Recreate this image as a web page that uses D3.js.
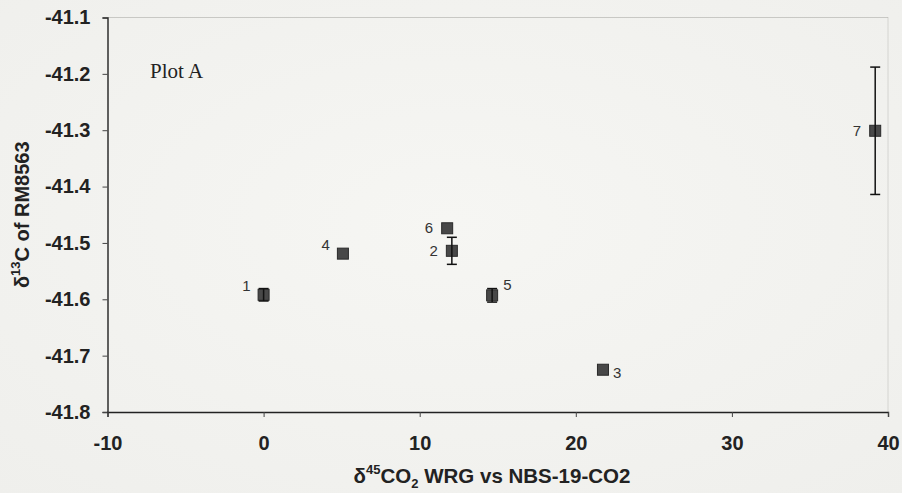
<!DOCTYPE html>
<html>
<head>
<meta charset="utf-8">
<script src="https://cdn.jsdelivr.net/npm/d3@7"></script>
<style>
  html, body { margin: 0; padding: 0; background: #f3f3f0; }
  svg { display: block; }
</style>
</head>
<body>
<svg id="chart" width="902" height="493"></svg>
<script>
// Sample labels, x (δ45 CO2 WRG vs NBS-19-CO2), y (δ13C of RM8563) and error half-widths
const labels = ["1", "2", "3", "4", "5", "6", "7"];
const xValues = [0.0, 12.06, 21.74, 5.08, 14.64, 11.76, 39.18];
const yValues = [-41.592, -41.514, -41.725, -41.519, -41.593, -41.474, -41.301];
const yErrors = [0.011, 0.024, 0.004, 0.004, 0.012, 0.004, 0.113];
// Label placement relative to each point: "l" left, "r" right, "lu" left-up, "ru" right-up
const labelSides = ["lu", "l", "r", "lu", "ru", "l", "l"];

const xTicks = [-10, 0, 10, 20, 30, 40];
const yTicks = [-41.1, -41.2, -41.3, -41.4, -41.5, -41.6, -41.7, -41.8];

const svg = d3.select("#chart");
const W = 902, H = 493;
const margin = { left: 107.5, right: 14, top: 17.5, bottom: 81 };
const sans = "Liberation Sans, Arial, sans-serif";

// soft background
const defs = svg.append("defs");
const grad = defs.append("radialGradient").attr("id", "bg").attr("cx", "50%").attr("cy", "45%").attr("r", "75%");
grad.append("stop").attr("offset", "0%").attr("stop-color", "#f6f6f3");
grad.append("stop").attr("offset", "100%").attr("stop-color", "#efefec");
svg.append("rect").attr("width", W).attr("height", H).attr("fill", "url(#bg)");

const x = d3.scaleLinear().domain([-10, 40]).range([margin.left, W - margin.right]);
const y = d3.scaleLinear().domain([-41.8, -41.1]).range([H - margin.bottom, margin.top]);

const x0 = x(-10), x1 = x(40), y0 = y(-41.8), y1 = y(-41.1);

// faint frame on top and right
svg.append("line").attr("x1", x0).attr("x2", x1).attr("y1", y1).attr("y2", y1)
  .attr("stroke", "#c8c8c4").attr("stroke-width", 1);
svg.append("line").attr("x1", x1).attr("x2", x1).attr("y1", y1).attr("y2", y0)
  .attr("stroke", "#b8b8b4").attr("stroke-width", 1).attr("stroke-dasharray", "1,1");

// plain hyphen-minus for negative numbers
const fmtY = v => d3.format(".1f")(v).replace("\u2212", "-");
const fmtX = v => d3.format("d")(v).replace("\u2212", "-");

// y axis
const yAxis = svg.append("g")
  .attr("transform", `translate(${x0},0)`)
  .call(d3.axisLeft(y).tickValues(yTicks).tickFormat(fmtY).tickSize(5).tickPadding(12));
yAxis.select(".domain").attr("stroke", "#222").attr("stroke-width", 1.4);
yAxis.selectAll(".tick line").attr("stroke", "#444");
yAxis.selectAll(".tick text")
  .attr("font-family", sans)
  .attr("font-weight", "bold").attr("font-size", 20).attr("fill", "#222");

// x axis
const xAxis = svg.append("g")
  .attr("transform", `translate(0,${y0})`)
  .call(d3.axisBottom(x).tickValues(xTicks).tickFormat(fmtX).tickSize(5).tickPadding(19));
xAxis.select(".domain").attr("stroke", "#222").attr("stroke-width", 1.4);
xAxis.selectAll(".tick line").attr("stroke", "#444");
xAxis.selectAll(".tick text")
  .attr("font-family", sans)
  .attr("font-weight", "bold").attr("font-size", 20).attr("fill", "#222");

// axis titles
const yTitle = svg.append("text")
  .attr("transform", `translate(29,${(y0 + y1) / 2}) rotate(-90)`)
  .attr("text-anchor", "middle")
  .attr("font-family", sans)
  .attr("font-weight", "bold").attr("font-size", 20).attr("fill", "#222");
yTitle.append("tspan").text("δ");
yTitle.append("tspan").attr("font-size", 13).attr("dy", -9).text("13");
yTitle.append("tspan").attr("dy", 9).text("C of RM8563");

const xTitle = svg.append("text")
  .attr("x", 492).attr("y", 483)
  .attr("text-anchor", "middle")
  .attr("font-family", sans)
  .attr("font-weight", "bold").attr("font-size", 20.5).attr("fill", "#222");
xTitle.append("tspan").text("δ");
xTitle.append("tspan").attr("font-size", 13).attr("dy", -9).text("45");
xTitle.append("tspan").attr("dy", 9).text("CO");
xTitle.append("tspan").attr("font-size", 13).attr("dy", 5).text("2");
xTitle.append("tspan").attr("dy", -5).text(" WRG vs NBS-19-CO2");

// plot caption
svg.append("text").attr("x", 150).attr("y", 78)
  .attr("font-family", "Liberation Serif, Times New Roman, serif")
  .attr("font-size", 21).attr("fill", "#222").text("Plot A");

const data = labels.map((l, i) => ({ l, x: xValues[i], y: yValues[i], e: yErrors[i], s: labelSides[i] }));

// markers
const m = 5.5;
svg.append("g").selectAll("rect").data(data).join("rect")
  .attr("x", d => x(d.x) - m).attr("y", d => y(d.y) - m)
  .attr("width", 2 * m).attr("height", 2 * m)
  .attr("fill", "#484848").attr("stroke", "#2a2a2a").attr("stroke-width", 1);

// error bars
const cap = 5;
const eb = svg.append("g").attr("stroke", "#111").attr("stroke-width", 1.5);
data.filter(d => y(d.y - d.e) - y(d.y + d.e) > 2 * m).forEach(d => {
  const cx = x(d.x), top = y(d.y + d.e), bot = y(d.y - d.e);
  eb.append("line").attr("x1", cx).attr("x2", cx).attr("y1", top).attr("y2", bot);
  eb.append("line").attr("x1", cx - cap).attr("x2", cx + cap).attr("y1", top).attr("y2", top);
  eb.append("line").attr("x1", cx - cap).attr("x2", cx + cap).attr("y1", bot).attr("y2", bot);
});

// point labels
const off = {
  l:  { dx: -14, dy: 5, a: "end" },
  r:  { dx: 10, dy: 8, a: "start" },
  lu: { dx: -13, dy: -4, a: "end" },
  ru: { dx: 11, dy: -5, a: "start" }
};
svg.append("g").selectAll("text").data(data).join("text")
  .attr("x", d => x(d.x) + off[d.s].dx)
  .attr("y", d => y(d.y) + off[d.s].dy)
  .attr("text-anchor", d => off[d.s].a)
  .attr("font-family", sans)
  .attr("font-size", 15).attr("fill", "#333")
  .text(d => d.l);
</script>
</body>
</html>
